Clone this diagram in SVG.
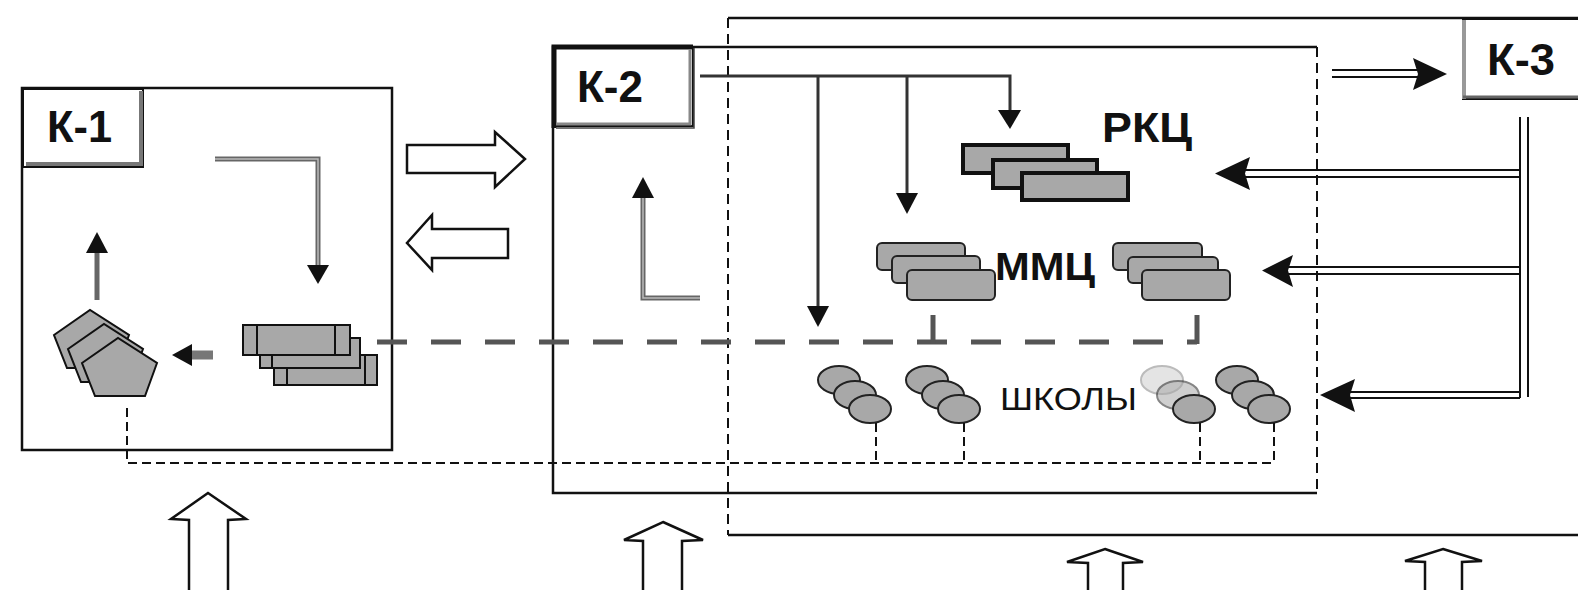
<svg xmlns="http://www.w3.org/2000/svg" width="1578" height="590" viewBox="0 0 1578 590">
<style>
.box{fill:none;stroke:#111;stroke-width:2.5}
.dash{fill:none;stroke:#111;stroke-width:2;stroke-dasharray:10 6}
.thin-dash{fill:none;stroke:#111;stroke-width:2;stroke-dasharray:9 5}
.thick-dash{fill:none;stroke:#555;stroke-width:5;stroke-dasharray:30 24}
.gray-line{fill:none;stroke:#666;stroke-width:5}
.gray-in{fill:none;stroke:#bbb;stroke-width:1.5}
.dark-line{fill:none;stroke:#333;stroke-width:3}
.head{fill:#111;stroke:none}
.hollow{fill:#fff;stroke:#111;stroke-width:2.5;stroke-linejoin:miter}
.dbl{fill:none;stroke:#111;stroke-width:2}
.book{fill:#a8a8a8;stroke:#111;stroke-width:2}
.rkc{fill:#a8a8a8;stroke:#111;stroke-width:4}
.mmc{fill:#a8a8a8;stroke:#222;stroke-width:2}
.school{fill:#a8a8a8;stroke:#222;stroke-width:2}
.lbl{font-family:"Liberation Sans",Arial,sans-serif;font-weight:bold;fill:#111}
.txt{font-family:"Liberation Sans",Arial,sans-serif;fill:#111}
</style>

<!-- outer frames -->
<g id="frame-k1">
  <rect class="box" x="22" y="88" width="370" height="362"/>
</g>
<g id="frame-k2">
  <path class="box" d="M1317,47 H553 V493 H1317"/>
  <line class="dash" x1="1317" y1="47" x2="1317" y2="493"/>
</g>
<g id="frame-k3">
  <path class="box" d="M728,18 H1580 M728,535 H1580"/>
  <line class="dash" x1="728" y1="18" x2="728" y2="535"/>
</g>

<!-- label boxes -->
<g id="k1">
  <rect x="23" y="89" width="120" height="78" fill="#fff" stroke="#111" stroke-width="2"/>
  <path d="M26,164 H141 V91" fill="none" stroke="#777" stroke-width="4"/>
  <text class="lbl" x="47" y="142" font-size="44" textLength="65" lengthAdjust="spacingAndGlyphs">К-1</text>
</g>
<g id="k2">
  <rect x="554" y="47" width="139" height="79" fill="#fff" stroke="#111" stroke-width="2"/>
  <path d="M554,128 V47 H693" fill="none" stroke="#111" stroke-width="5"/>
  <path d="M556,124 H690 V50" fill="none" stroke="#888" stroke-width="3"/>
  <path d="M556,128 H694 V48" fill="none" stroke="#444" stroke-width="1.5"/>
  <text class="lbl" x="577" y="102" font-size="44" textLength="66" lengthAdjust="spacingAndGlyphs">К-2</text>
</g>
<g id="k3">
  <rect x="1463" y="19" width="118" height="80" fill="#fff" stroke="#111" stroke-width="2"/>
  <path d="M1464,99 V20" fill="none" stroke="#999" stroke-width="4"/>
  <path d="M1463,97 H1580" fill="none" stroke="#666" stroke-width="3"/>
  <text class="lbl" x="1487" y="75" font-size="44" textLength="68" lengthAdjust="spacingAndGlyphs">К-3</text>
</g>

<!-- K-1 contents -->
<g id="k1-pentagons">
  <polygon class="book" points="54,335 90,310 129,335 117,368 67,368"/>
  <polygon class="book" points="68,349 104,324 143,349 131,382 81,382"/>
  <polygon class="book" points="82,363 118,338 157,363 145,396 95,396"/>
</g>
<g id="k1-books">
  <rect class="book" x="274" y="355" width="103" height="30"/>
  <line class="book" x1="287" y1="355" x2="287" y2="385"/>
  <line class="book" x1="365" y1="355" x2="365" y2="385"/>
  <rect class="book" x="260" y="338" width="100" height="30"/>
  <line class="book" x1="272" y1="338" x2="272" y2="368"/>
  <rect class="book" x="243" y="325" width="107" height="30"/>
  <line class="book" x1="257" y1="325" x2="257" y2="355"/>
  <line class="book" x1="335" y1="325" x2="335" y2="355"/>
</g>

<!-- K-2 / RKC / MMC / schools -->
<g id="rkc">
  <rect class="rkc" x="963" y="145" width="105" height="28"/>
  <rect class="rkc" x="993" y="160" width="104" height="28"/>
  <rect class="rkc" x="1022" y="173" width="106" height="27"/>
  <text class="lbl" x="1102" y="142" font-size="42" textLength="90" lengthAdjust="spacingAndGlyphs">РКЦ</text>
</g>
<g id="mmc">
  <rect class="mmc" x="877" y="243" width="88" height="27" rx="5"/>
  <rect class="mmc" x="892" y="256" width="88" height="27" rx="5"/>
  <rect class="mmc" x="907" y="270" width="88" height="30" rx="5"/>
  <rect class="mmc" x="1113" y="243" width="89" height="27" rx="5"/>
  <rect class="mmc" x="1128" y="257" width="90" height="26" rx="5"/>
  <rect class="mmc" x="1142" y="270" width="88" height="30" rx="5"/>
  <text class="lbl" x="995" y="280" font-size="38" textLength="100" lengthAdjust="spacingAndGlyphs">ММЦ</text>
</g>
<g id="schools">
  <ellipse class="school" cx="839" cy="380" rx="21" ry="14"/>
  <ellipse class="school" cx="855" cy="395" rx="21" ry="14"/>
  <ellipse class="school" cx="870" cy="409" rx="21" ry="14"/>
  <ellipse class="school" cx="927" cy="380" rx="21" ry="14"/>
  <ellipse class="school" cx="943" cy="395" rx="21" ry="14"/>
  <ellipse class="school" cx="959" cy="409" rx="21" ry="14"/>
  <ellipse class="school" cx="1162" cy="380" rx="21" ry="14" opacity="0.3"/>
  <ellipse class="school" cx="1178" cy="395" rx="21" ry="14" opacity="0.55"/>
  <ellipse class="school" cx="1194" cy="409" rx="21" ry="14"/>
  <ellipse class="school" cx="1237" cy="380" rx="21" ry="14"/>
  <ellipse class="school" cx="1253" cy="395" rx="21" ry="14"/>
  <ellipse class="school" cx="1269" cy="409" rx="21" ry="14"/>
  <text class="txt" x="1000" y="410" font-size="31" textLength="137" lengthAdjust="spacingAndGlyphs">ШКОЛЫ</text>
</g>

<!-- connectors -->
<g id="connectors">
  <path class="gray-line" d="M215,159 H318 V266"/>
  <path class="gray-in" d="M215,159 H318 V266"/>
  <polygon class="head" points="307,265 329,265 318,284"/>
  <line class="gray-line" x1="97" y1="300" x2="97" y2="250"/>
  <polygon class="head" points="86,253 108,253 97,232"/>
  <line x1="213" y1="355" x2="189" y2="355" stroke="#777" stroke-width="9"/>
  <polygon class="head" points="192,344 192,366 172,355"/>

  <path class="gray-line" d="M700,298 H643 V196"/>
  <path class="gray-in" d="M700,298 H643 V196"/>
  <polygon class="head" points="632,198 654,198 643,177"/>

  <path class="dark-line" d="M700,76 H1010 V112"/>
  <polygon class="head" points="998,110 1021,110 1010,129"/>
  <line class="dark-line" x1="907" y1="76" x2="907" y2="195"/>
  <polygon class="head" points="896,193 918,193 907,214"/>
  <line class="dark-line" x1="818" y1="76" x2="818" y2="308"/>
  <polygon class="head" points="807,306 829,306 818,327"/>

  <line class="thick-dash" x1="377" y1="342" x2="1197" y2="342"/>
  <line x1="933" y1="315" x2="933" y2="344" stroke="#555" stroke-width="5"/>
  <line x1="1197" y1="315" x2="1197" y2="344" stroke="#555" stroke-width="5"/>

  <path class="thin-dash" d="M127,408 V463 H1274"/>
  <line class="thin-dash" x1="876" y1="423" x2="876" y2="463"/>
  <line class="thin-dash" x1="964" y1="423" x2="964" y2="463"/>
  <line class="thin-dash" x1="1200" y1="423" x2="1200" y2="463"/>
  <line class="thin-dash" x1="1274" y1="423" x2="1274" y2="463"/>

  <polygon class="hollow" points="407,145 495,145 495,132 525,159 495,187 495,173 407,173"/>
  <polygon class="hollow" points="508,229 432,229 432,215 407,243 432,270 432,258 508,258"/>

  <polygon class="hollow" points="208,493 246,519 228,520 228,595 189,595 189,520 171,519"/>
  <polygon class="hollow" points="663,522 703,540 682,541 682,595 643,595 643,541 624,540"/>
  <polygon class="hollow" points="1105,549 1143,562 1123,563 1123,595 1088,595 1088,563 1067,562"/>
  <polygon class="hollow" points="1443,549 1482,561 1462,562 1462,595 1425,595 1425,562 1405,561"/>

  <line class="dbl" x1="1332" y1="70" x2="1418" y2="70"/>
  <line class="dbl" x1="1332" y1="77" x2="1418" y2="77"/>
  <polygon class="head" points="1413,58 1447,74 1413,90 1418,74"/>

  <line class="dbl" x1="1520" y1="117" x2="1520" y2="398"/>
  <line class="dbl" x1="1528" y1="117" x2="1528" y2="397"/>

  <line class="dbl" x1="1245" y1="170" x2="1520" y2="170"/>
  <line class="dbl" x1="1245" y1="177" x2="1520" y2="177"/>
  <polygon class="head" points="1250,157 1215,173.5 1250,190 1245,173.5"/>

  <line class="dbl" x1="1288" y1="267" x2="1520" y2="267"/>
  <line class="dbl" x1="1288" y1="274" x2="1520" y2="274"/>
  <polygon class="head" points="1293,255 1262,270.5 1293,287 1288,270.5"/>

  <line class="dbl" x1="1350" y1="392" x2="1520" y2="392"/>
  <line class="dbl" x1="1350" y1="398" x2="1520" y2="398"/>
  <polygon class="head" points="1355,379 1320,395 1355,412 1350,395"/>
</g>
</svg>
